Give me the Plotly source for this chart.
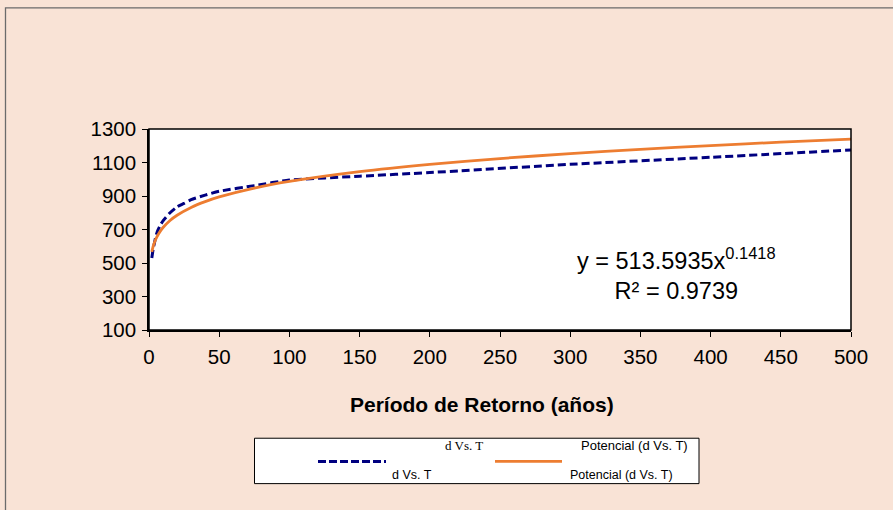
import plotly.graph_objects as go

# ---- data ----
T_obs = [2, 3, 4, 5, 6, 8, 10, 15, 20, 25, 30, 40, 50, 75, 100, 150, 200, 300, 400, 500]
d_obs = [530, 585, 625, 663, 690, 725, 752, 800, 835, 856, 878, 905, 928, 962, 995, 1018, 1040, 1089, 1131, 1175]

# power trendline values (y = 513.5935 x^0.1418) at selected return periods
T_fit = [2, 3, 4, 5, 7, 10, 15, 20, 30, 40, 50, 75, 100, 150, 200, 250, 300, 350, 400, 450, 500]
d_fit = [566.6, 600.2, 625.1, 645.3, 676.8, 711.9, 754.0, 785.4, 831.9, 866.5, 894.4, 947.3,
         986.8, 1045.2, 1088.7, 1123.7, 1153.2, 1178.6, 1201.2, 1221.4, 1239.8]

y_ticks = [100, 300, 500, 700, 900, 1100, 1300]
x_ticks = [0, 50, 100, 150, 200, 250, 300, 350, 400, 450, 500]

series_name = "d Vs. T"
trend_name = "Potencial (d Vs. T)"
x_title = "Período de Retorno (años)"
eq_text = "y = 513.5935x<sup>0.1418</sup><br>R² = 0.9739"

# ---- layout geometry (pixels) ----
W, H = 893, 510
L, R, TOP, BOT = 149, 851, 129, 330.5
PW, PH = R - L, BOT - TOP

def px(x):
    return (x - L) / PW

def py(y):
    return (BOT - y) / PH

BG = "#F9E3D6"
FONT = "Liberation Sans, Arial, sans-serif"

fig = go.Figure()
fig.add_trace(go.Scatter(x=T_obs, y=d_obs, mode="lines", name=series_name,
                         line=dict(color="#000080", width=3, dash="8px,4px", shape="spline", smoothing=0.6)))
fig.add_trace(go.Scatter(x=T_fit, y=d_fit, mode="lines", name=trend_name,
                         line=dict(color="#ED7D31", width=2.8, shape="spline", smoothing=0.6)))

shapes = []
# outer chart border
shapes.append(dict(type="rect", xref="paper", yref="paper",
                   x0=px(5.5), x1=px(900), y0=py(520), y1=py(7.5),
                   line=dict(color="#6b6b6b", width=1.3), fillcolor="rgba(0,0,0,0)", layer="below"))
# plot area frame
shapes.append(dict(type="rect", xref="paper", yref="paper", x0=0, x1=1, y0=0, y1=1,
                   line=dict(color="black", width=1.5)))
# legend box
shapes.append(dict(type="rect", xref="paper", yref="paper",
                   x0=px(254.5), x1=px(699), y0=py(484.5), y1=py(439),
                   line=dict(color="black", width=1), fillcolor="white"))
# legend samples
shapes.append(dict(type="line", xref="paper", yref="paper",
                   x0=px(318), x1=px(386), y0=py(462.3), y1=py(462.3),
                   line=dict(color="#000080", width=3, dash="8px,3px")))
shapes.append(dict(type="line", xref="paper", yref="paper",
                   x0=px(495), x1=px(562), y0=py(462.3), y1=py(462.3),
                   line=dict(color="#ED7D31", width=2.8)))

annotations = [
    dict(text="<b>" + x_title + "</b>", xref="paper", yref="paper", x=px(481.5), y=py(405),
         showarrow=False, font=dict(family=FONT, size=21, color="black"), xanchor="center", yanchor="middle"),
    dict(text=eq_text, xref="paper", yref="paper", x=px(676), y=py(274),
         showarrow=False, font=dict(family=FONT, size=23.5, color="black"), xanchor="center", yanchor="middle",
         align="center"),
    dict(text=series_name, xref="paper", yref="paper", x=px(464), y=py(446.5),
         showarrow=False, font=dict(family="Liberation Serif, Times New Roman, serif", size=13, color="black"),
         xanchor="center", yanchor="middle"),
    dict(text=trend_name, xref="paper", yref="paper", x=px(634), y=py(446.5),
         showarrow=False, font=dict(family=FONT, size=13, color="black"), xanchor="center", yanchor="middle"),
    dict(text=series_name, xref="paper", yref="paper", x=px(411.5), y=py(475.5),
         showarrow=False, font=dict(family=FONT, size=12.5, color="black"), xanchor="center", yanchor="middle"),
    dict(text=trend_name, xref="paper", yref="paper", x=px(621), y=py(475.5),
         showarrow=False, font=dict(family=FONT, size=12.5, color="black"), xanchor="center", yanchor="middle"),
]

fig.update_layout(
    width=W, height=H,
    margin=dict(l=L, r=W - R, t=TOP, b=H - BOT),
    paper_bgcolor=BG, plot_bgcolor="white",
    showlegend=False,
    shapes=shapes, annotations=annotations,
    font=dict(family=FONT, size=20, color="black"),
    xaxis=dict(range=[0, 500], tickvals=x_ticks, ticktext=[str(v) for v in x_ticks],
               showgrid=False, zeroline=False, showline=True, linecolor="black", linewidth=1.5,
               ticks="outside", ticklen=5, tickcolor="black", tickwidth=1.2,
               tickfont=dict(family=FONT, size=20.5, color="black"), ticklabelstandoff=3),
    yaxis=dict(range=[100, 1300], tickvals=y_ticks, ticktext=[str(v) for v in y_ticks],
               showgrid=False, zeroline=False, showline=True, linecolor="black", linewidth=1.5,
               ticks="outside", ticklen=5, tickcolor="black", tickwidth=1.2,
               tickfont=dict(family=FONT, size=20.5, color="black"), ticklabelstandoff=2),
)

fig.write_html("out.html")
